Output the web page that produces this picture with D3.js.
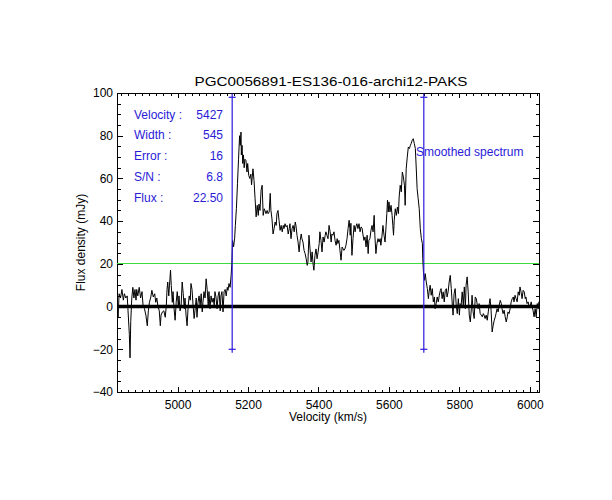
<!DOCTYPE html>
<html>
<head>
<meta charset="utf-8">
<script src="https://cdn.jsdelivr.net/npm/d3@7"></script>
<style>
  body { margin: 0; background: #fff; }
  text { font-family: "Liberation Sans", Arial, sans-serif; font-size: 12px; }
</style>
</head>
<body>
<div class="spectrumGraph"></div>
<script>
var title = 'PGC0056891-ES136-016-archi12-PAKS';
var xLabel = 'Velocity (km/s)';
var yLabel = 'Flux density (mJy)';
var xTicks = [5000, 5200, 5400, 5600, 5800, 6000];
var yTicks = [-40, -20, 0, 20, 40, 60, 80, 100];
var infoLabels = ['Velocity :', 'Width :', 'Error :', 'S/N :', 'Flux :'];
var infoValues = ['5427', '545', '16', '6.8', '22.50'];
var smoothLabel = 'Smoothed spectrum';
var profileEdges = [5155, 5699];
var edgeMarks = [98, -20];
var levelLine = 20;

// spectrum: velocity (km/s) and flux (mJy)
var specVelocity = [
  4828, 4831, 4834, 4838, 4842, 4846, 4849, 4853, 4857, 4859, 4863, 4865, 4867, 4870, 4873, 4876,
  4879, 4882, 4884, 4887, 4891, 4895, 4899, 4902, 4906, 4910, 4914, 4917, 4920, 4924, 4927, 4931,
  4935, 4938, 4941, 4944, 4948, 4951, 4953, 4957, 4961, 4965, 4968, 4970, 4972, 4975, 4977, 4980,
  4982, 4985, 4987, 4990, 4993, 4996, 4999, 5002, 5004, 5007, 5010, 5013, 5016, 5019, 5021, 5024,
  5027, 5030, 5033, 5036, 5038, 5041, 5044, 5047, 5050, 5053, 5055, 5058, 5061, 5064, 5067, 5070,
  5072, 5075, 5078, 5081, 5084, 5087, 5089, 5092, 5095, 5098, 5101, 5104, 5106, 5109, 5112, 5115,
  5118, 5121, 5123, 5126, 5129, 5132, 5135, 5138, 5141, 5143, 5146, 5149, 5152, 5154,
  5156, 5159, 5162, 5164, 5167, 5170, 5173, 5176, 5178, 5180, 5181, 5183, 5185, 5187, 5189, 5191,
  5194, 5197, 5199, 5202, 5205, 5208, 5210, 5212, 5214, 5217, 5220, 5223, 5226, 5229, 5231, 5234,
  5237, 5240, 5243, 5246, 5248, 5251, 5254, 5257, 5260, 5263, 5265, 5268, 5271, 5274, 5277, 5280,
  5282, 5285, 5288, 5291, 5294, 5297, 5300, 5302, 5305, 5308, 5311, 5314, 5317, 5319, 5322, 5325,
  5328, 5331, 5334, 5336, 5339, 5342, 5345, 5348, 5351, 5353, 5356, 5359, 5362, 5365, 5368, 5370,
  5373, 5376, 5379, 5382, 5385, 5387, 5390, 5393, 5396, 5399, 5402, 5404, 5407, 5410, 5413, 5416,
  5419, 5421, 5424,
  5427, 5430, 5433, 5436, 5438, 5441, 5444, 5447, 5450, 5453, 5455, 5458, 5461, 5464, 5467, 5470,
  5472, 5475, 5478, 5481, 5484, 5487, 5489, 5490, 5492, 5495, 5498, 5501, 5504, 5506, 5509, 5512,
  5515, 5518, 5521, 5524, 5526, 5529, 5532, 5535, 5538, 5541, 5543, 5546, 5549, 5552, 5555, 5558,
  5560, 5563, 5566, 5569, 5572, 5575, 5577, 5580, 5583, 5586, 5589, 5592, 5594, 5596, 5598, 5600,
  5603, 5606, 5609, 5611, 5613, 5615, 5618, 5621, 5624, 5627, 5629, 5632, 5635, 5638, 5641, 5644,
  5646, 5649, 5652, 5655, 5658, 5661, 5663, 5666, 5669, 5672, 5675, 5678, 5680, 5683, 5686, 5689,
  5692, 5695, 5696, 5698,
  5701, 5703, 5706, 5709, 5712, 5714, 5717, 5720, 5723, 5726, 5729, 5731, 5734, 5737, 5740, 5743,
  5746, 5748, 5751, 5754, 5757, 5760, 5763, 5765, 5768, 5771, 5774, 5777, 5780, 5782, 5785, 5788,
  5791, 5794, 5797, 5800, 5802, 5805, 5808, 5811, 5814, 5817, 5819, 5822, 5825, 5828, 5831, 5834,
  5836, 5839, 5842, 5845, 5848, 5851, 5853, 5856, 5859, 5862, 5865, 5868, 5870, 5873, 5876, 5879,
  5882, 5885, 5887, 5890, 5893, 5896, 5899, 5902, 5904, 5907, 5910, 5913, 5916, 5919, 5921, 5924,
  5927, 5930, 5933, 5936, 5938, 5941, 5944, 5947, 5950, 5953, 5955, 5958, 5961, 5964, 5967, 5970,
  5972, 5975, 5978, 5981, 5984, 5987, 5989, 5992, 5995, 5998, 6001, 6004, 6006, 6009, 6012, 6015,
  6018, 6021, 6024, 6026, 6028
];
var specFlux = [
  5.3, -5, 6, 4, 8, 3, 6, 4, 5, -1, -13, -24, -7, 4, 9, 4,
  8, 3, 8, 5, 9, 4, 7, 0.5, -1, -4, -9, -2, 2, 4.5, 7.6, 4.5,
  6, 2, 4, 0.5, -2, -9, -4, -2.5, -2, -5, 0.5, 8, 11.5, 5, 10, 17,
  10, 2, 7, -1, -6.4, 2, 7, 0, 5, -2, 0.5, 11.5, 6, -1, 4, -4,
  -9, 0, 5, 3, 10.8, 8, 0.5, -5.6, -1, 4, -5, 2, 5, 0.5, 6, -2.5,
  2, 7, 4, 13, 8, 0.5, 7, -1, 5, 2, 4, 0.5, 7, 4.5, -1, 5,
  7, -2, 5, 7, -2.5, 7, 8, 5, 9, 7.6, 10.8, 9, 14.6, 20,
  31, 28, 32, 38, 46, 57.5, 69, 80, 75.5, 81.7, 71, 75.5, 67, 71, 65, 69,
  68.5, 63, 67, 61.4, 60, 62, 57, 60.7, 64.5, 59, 50.5, 42, 47.4, 42.7, 48, 45,
  54.4, 56.8, 42.7, 45.8, 45, 43.5, 45, 43.5, 44.3, 53, 45, 41, 34, 36.5, 39.6, 38,
  43.5, 45, 40.4, 35.7, 38, 35, 38, 36.5, 38.8, 37.3, 38, 34, 36.5, 38.8, 31.8, 36.5,
  38, 35, 39.6, 38, 33.4, 30.2, 25.6, 31, 34, 31.8, 30.2, 26.3, 24.8, 22.4, 19.3, 20.9,
  33.4, 27, 20.9, 25.6, 19.3, 17, 24, 27, 22.4, 25.6, 29.5, 35, 31, 25.6, 32.6, 30.2,
  33.4, 35, 33.4,
  31.8, 38, 35, 30.2, 34, 33.4, 35, 31, 28.7, 31.8, 29.5, 31, 26.3, 21.7, 27.9, 27,
  26.3, 27, 28.7, 31.8, 36.5, 40.4, 36.5, 33.4, 39, 24, 31.8, 38, 35, 37.3, 38.8, 36.5,
  38.8, 35, 37.3, 36.5, 34, 31, 32.6, 27.9, 33.4, 24.8, 31, 31.8, 35.7, 38, 35, 42.7,
  33.4, 24.8, 29.5, 31.8, 30.2, 31.8, 28.7, 32.6, 38, 33.4, 30.2, 38, 43.5, 49.8, 44.3, 49,
  44.3, 47.4, 42.7, 38, 33.4, 40.4, 45.8, 42.7, 46.6, 43.5, 51.3, 56.8, 53.7, 63, 60.7, 56.8,
  47.4, 64.5, 70, 74.7, 74, 75.5, 76.3, 77.8, 78.6, 76.3, 74, 63, 55.2, 50.5, 45.8, 36.5,
  31.8, 29.5, 22.4, 16.2,
  12.3, 15.4, 11.5, 8.4, 3.7, 6.9, 10, 5.3, 8.4, 2.2, 4.5, -1, 1.4, 4.5, 2.2, 5.3,
  7.6, 8.4, 3.7, 6.9, 2.2, 7.6, 8.4, 4.5, 6.9, 11.5, 14.6, 8.4, 0.6, -4, 6, 8.4,
  0.6, -3.3, 3.7, -4, 1.4, 0.6, 6.9, 0.6, 9.2, -1, 10, 13.9, 6.9, -4, -7.2, -1,
  5.3, -2.5, -5.6, 4.5, 3.7, 0.6, -1, 1.4, -3.3, -4, -4.8, -3.3, -4, -5.6, -4, -6.4,
  -2.5, 1.4, 3.7, -1.7, -11.9, -8.7, -6.4, -4.8, -3.3, -1, -2.5, 0.6, 2.9, 1.4, -1, -3.3,
  -1.7, -4.8, -7.2, -4.8, -2.5, -3.3, -1, 2.2, 3.7, 4.5, 2.2, 5.3, 3.7, 2.2, 6.9, 5.3,
  9.2, 6.9, 3.7, 7.6, 6.9, 3.7, 4.5, 1.4, 2.2, 0, 0.6, 2.2, 0, -1.7, -4.8, -1,
  -4.8, 1.4, -1, 2.2, -4.8
];

var margin = {top: 93, bottom: 108, left: 117, right: 73},
    width = 612 - margin.left - margin.right,
    height = 500 - margin.top - margin.bottom;

var blue = '#2a1ad8', green = '#3cdc3c';

var x = d3.scaleLinear().domain([4828, 6026]).range([0, width]);
var y = d3.scaleLinear().domain([-40, 100]).range([height, 0]);
var tickFormat = d3.format('d');

var svg = d3.select('.spectrumGraph')
            .append('svg')
            .attr('width', width + margin.left + margin.right)
            .attr('height', height + margin.top + margin.bottom)
            .append('g')
            .attr('transform', 'translate(' + margin.left + ',' + margin.top + ')');

svg.append('clipPath').attr('id', 'plotClip')
   .append('rect').attr('width', width).attr('height', height);

// axes, IDL style: ticks pointing inward, minor ticks in between
var xMinor = d3.range(4840, 6026, 20);
var yMinor = d3.range(-40, 101, 5);

function drawAxis(axis, transform, cls) {
    var g = svg.append('g').attr('class', cls).attr('transform', transform).call(axis);
    g.select('.domain').remove();
    g.selectAll('line').attr('stroke', '#000').attr('shape-rendering', 'crispEdges');
    g.selectAll('text').attr('fill', '#000').style('font-size', '12px');
    return g;
}

drawAxis(d3.axisBottom(x).tickValues(xTicks).tickFormat(tickFormat).tickSize(-5).tickPadding(8), 'translate(0,' + height + ')', 'x axis');
drawAxis(d3.axisBottom(x).tickValues(xMinor).tickSize(-2.5).tickFormat(''), 'translate(0,' + height + ')', 'x minor');
drawAxis(d3.axisTop(x).tickValues(xTicks).tickSize(-5).tickFormat(''), 'translate(0,0)', 'x2 axis');
drawAxis(d3.axisTop(x).tickValues(xMinor).tickSize(-2.5).tickFormat(''), 'translate(0,0)', 'x2 minor');
drawAxis(d3.axisLeft(y).tickValues(yTicks).tickFormat(tickFormat).tickSize(-6).tickPadding(4), 'translate(0,0)', 'y axis');
drawAxis(d3.axisLeft(y).tickValues(yMinor).tickSize(-3.5).tickFormat(''), 'translate(0,0)', 'y minor');
drawAxis(d3.axisRight(y).tickValues(yTicks).tickSize(-6).tickFormat(''), 'translate(' + width + ',0)', 'y2 axis');
drawAxis(d3.axisRight(y).tickValues(yMinor).tickSize(-3.5).tickFormat(''), 'translate(' + width + ',0)', 'y2 minor');

svg.append('rect')
    .attr('x', 0.5).attr('y', 0.5)
    .attr('width', width).attr('height', height)
    .attr('fill', 'none').attr('stroke', '#000')
    .attr('shape-rendering', 'crispEdges');

// level line and zero line
svg.append('line')
    .attr('x1', 0).attr('x2', width)
    .attr('y1', y(levelLine)).attr('y2', y(levelLine))
    .attr('stroke', green).attr('stroke-width', 1)
    .attr('shape-rendering', 'crispEdges');

svg.append('line')
    .attr('x1', 0).attr('x2', width)
    .attr('y1', y(0)).attr('y2', y(0))
    .attr('stroke', '#000').attr('stroke-width', 3.5);

// spectrum
var spectrum = specVelocity.map(function(v, i) { return [v, specFlux[i]]; });
var line = d3.line().x(function(d) { return x(d[0]); }).y(function(d) { return y(d[1]); });

svg.append('path')
    .datum(spectrum)
    .attr('clip-path', 'url(#plotClip)')
    .attr('d', line)
    .attr('fill', 'none')
    .attr('stroke', '#000')
    .attr('stroke-width', 1)
    .attr('stroke-linejoin', 'miter');

// profile edges with + marks
var arm = 3.5;
profileEdges.forEach(function(v) {
    svg.append('line')
        .attr('x1', x(v)).attr('x2', x(v))
        .attr('y1', y(edgeMarks[0]) - arm).attr('y2', y(edgeMarks[1]) + arm)
        .attr('stroke', blue).attr('stroke-width', 1.2);
    edgeMarks.forEach(function(f) {
        svg.append('line')
            .attr('x1', x(v) - arm).attr('x2', x(v) + arm)
            .attr('y1', y(f)).attr('y2', y(f))
            .attr('stroke', blue).attr('stroke-width', 1.2);
    });
});

// info block
infoLabels.forEach(function(label, i) {
    svg.append('text')
        .attr('x', 17).attr('y', 25.5 + i * 20.8)
        .attr('fill', blue)
        .text(label);
    svg.append('text')
        .attr('x', 106).attr('y', 25.5 + i * 20.8)
        .attr('text-anchor', 'end')
        .attr('fill', blue)
        .text(infoValues[i]);
});

svg.append('text')
    .attr('x', 299).attr('y', 63)
    .attr('fill', blue)
    .text(smoothLabel);

// titles
svg.append('text')
    .attr('x', 214).attr('y', -7)
    .attr('text-anchor', 'middle')
    .attr('textLength', 273).attr('lengthAdjust', 'spacingAndGlyphs')
    .style('font-size', '13px')
    .text(title);

svg.append('text')
    .attr('x', width / 2).attr('y', height + 29)
    .attr('text-anchor', 'middle')
    .text(xLabel);

svg.append('text')
    .attr('transform', 'translate(-32,' + height / 2 + ') rotate(-90)')
    .attr('text-anchor', 'middle')
    .text(yLabel);
</script>
</body>
</html>
